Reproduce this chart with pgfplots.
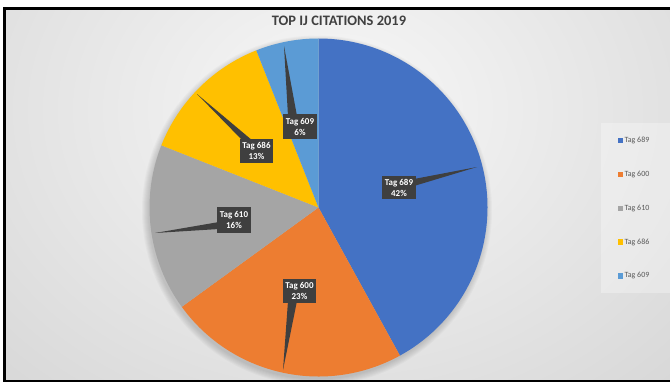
\documentclass[border=0pt]{standalone}
\usepackage{pgfplots}
\pgfplotsset{compat=1.18}
\usepackage{fontspec}
\setmainfont{Carlito}
\definecolor{c689}{HTML}{4472C4}
\definecolor{c600}{HTML}{ED7D31}
\definecolor{c610}{HTML}{A5A5A5}
\definecolor{c686}{HTML}{FFC000}
\definecolor{c609}{HTML}{5B9BD5}
\definecolor{bgA}{HTML}{F8F8F8}
\definecolor{bgB}{HTML}{CACACA}
\definecolor{bgC}{HTML}{BEBEBE}
\definecolor{labfill}{HTML}{3F3F3F}
\definecolor{tgray}{HTML}{404040}
\definecolor{lgray}{HTML}{595959}
\pgfdeclareradialshading{bgshade}{\pgfpoint{0bp}{0bp}}{color(0bp)=(bgA); color(50bp)=(bgB); color(75bp)=(bgC)}
\begin{document}
\begin{tikzpicture}[x=1bp,y=1bp]
\useasboundingbox (0,0) rectangle (670,382);
\fill[white] (0,0) rectangle (670,382);
\begin{scope}
\clip (4.5,1.2) rectangle (670,373.5);
\shade[shading=bgshade] (-10,0) rectangle (680,544);
\fill[white, opacity=0.3] (601,89) rectangle (672,259);
\foreach \i in {1,...,7} {\fill[black, opacity=0.022] (317,171.5) circle (168+\i);}
\end{scope}
\draw[line width=2.5bp] (672,373.5) -- (4.5,373.5) -- (4.5,1.2) -- (672,1.2);
% values (percent)
\def\vA{42}\def\vB{23}\def\vC{16}\def\vD{13}\def\vE{6}
\pgfmathsetmacro\aA{90}
\pgfmathsetmacro\aB{\aA-3.6*\vA}
\pgfmathsetmacro\aC{\aB-3.6*\vB}
\pgfmathsetmacro\aD{\aC-3.6*\vC}
\pgfmathsetmacro\aE{\aD-3.6*\vD}
\pgfmathsetmacro\aF{\aE-3.6*\vE}
\begin{axis}[
  at={(0,0)}, anchor=south west,
  x=1bp, y=1bp, xmin=0, xmax=670, ymin=0, ymax=382,
  hide axis, clip=false,
  legend image code/.code={\fill[#1] (0bp,-2.6bp) rectangle (5.2bp,2.6bp);},
  legend style={at={(axis cs:618,246.5)}, anchor=north west, draw=none, fill=none,
    font=\fontsize{8}{9.6}\selectfont, text=lgray, row sep=24.6bp, inner sep=0pt,
    nodes={inner sep=1.2bp}, cells={anchor=west}},
]
\addplot[fill=c689, draw=none] coordinates {(318.5,174.5)} -- ++(\aA:169bp) arc[start angle=\aA, end angle=\aB, radius=169bp] -- cycle;
\addplot[fill=c600, draw=none] coordinates {(318.5,174.5)} -- ++(\aB:169bp) arc[start angle=\aB, end angle=\aC, radius=169bp] -- cycle;
\addplot[fill=c610, draw=none] coordinates {(318.5,174.5)} -- ++(\aC:169bp) arc[start angle=\aC, end angle=\aD, radius=169bp] -- cycle;
\addplot[fill=c686, draw=none] coordinates {(318.5,174.5)} -- ++(\aD:169bp) arc[start angle=\aD, end angle=\aE, radius=169bp] -- cycle;
\addplot[fill=c609, draw=none] coordinates {(318.5,174.5)} -- ++(\aE:169bp) arc[start angle=\aE, end angle=\aF, radius=169bp] -- cycle;
\legend{Tag 689, Tag 600, Tag 610, Tag 686, Tag 609}
\end{axis}
\node[font=\bfseries\fontsize{14.5}{17}\selectfont, text=tgray] at (339,361) {TOP IJ CITATIONS 2019};
\tikzset{lab/.style={fill=labfill}, labt/.style={text=white, align=center, font=\bfseries\fontsize{9}{11}\selectfont, inner sep=0pt}}
% Tag 689
\fill[lab] (414,203) -- (477,215) -- (414,196) -- cycle;
\fill[lab] (382,183) rectangle (416,206);
\node[labt] at (399,194.5) {Tag 689\\42\%};
% Tag 600
\fill[lab] (288,81) -- (283,12) -- (297,81) -- cycle;
\fill[lab] (283,79) rectangle (316,103);
\node[labt] at (299.5,91) {Tag 600\\23\%};
% Tag 610
\fill[lab] (219,160) -- (155,149) -- (219,153) -- cycle;
\fill[lab] (217,149) rectangle (251,175);
\node[labt] at (234,162) {Tag 610\\16\%};
% Tag 686
\fill[lab] (243,241) -- (197,288) -- (253,241) -- cycle;
\fill[lab] (240,219) rectangle (273,243);
\node[labt] at (256.5,231) {Tag 686\\13\%};
% Tag 609
\fill[lab] (288,266) -- (284,336) -- (297,266) -- cycle;
\fill[lab] (283,243) rectangle (317,268);
\node[labt] at (300,255.5) {Tag 609\\6\%};
\end{tikzpicture}
\end{document}
